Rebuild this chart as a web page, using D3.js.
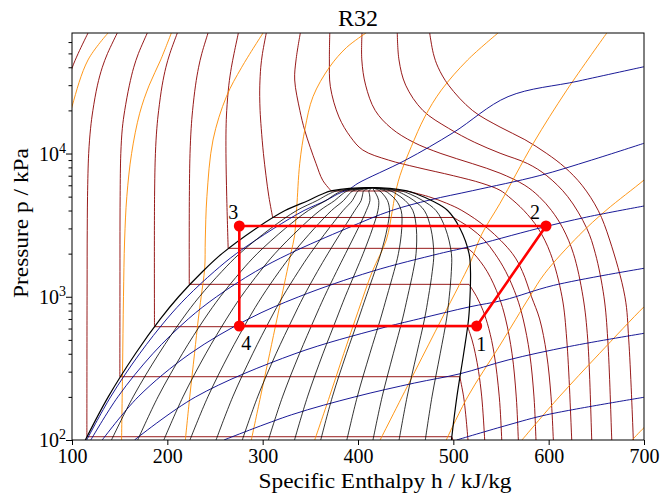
<!DOCTYPE html>
<html>
<head>
<meta charset="utf-8">
<script src="https://cdn.jsdelivr.net/npm/d3@7"></script>
<style>
  body { margin: 0; background: #fff; }
  svg { display: block; }
  text { font-family: "Liberation Serif", "DejaVu Serif", serif; fill: #000; }
</style>
</head>
<body>
<svg id="chart" width="661" height="497"></svg>
<script>
// saturation dome: pressure (kPa) and enthalpy (kJ/kg)
var satPressure = [100, 200, 400, 700, 1000, 1500, 2000, 3000, 4000, 4700, 5200, 5500, 5782];
var satLiquidH  = [114, 138, 166.5, 192.7, 211.8, 237, 257.3, 293.1, 323.5, 348, 362, 373, 415];
var satVaporH   = [498, 503.7, 510.8, 516, 517.5, 518, 516.5, 507, 494, 477, 462, 450, 415];

// vapour quality lines (1/14 ... 13/14), enthalpy at each satPressure level
var qualityH = [
  [141.4, 164.1, 191.1, 215.8, 233.6, 257.1, 275.8, 308.4, 335.7, 357.2, 369.1, 378.5, 415],
  [168.9, 190.2, 215.7, 238.9, 255.5, 277.1, 294.3, 323.7, 347.9, 366.4, 376.3, 384.0, 415],
  [196.3, 216.4, 240.3, 262.0, 277.3, 297.2, 312.8, 338.9, 360.0, 375.6, 383.4, 389.5, 415],
  [223.7, 242.5, 264.9, 285.1, 299.2, 317.3, 331.4, 354.2, 372.2, 384.9, 390.6, 395.0, 415],
  [251.1, 268.6, 289.5, 308.2, 321.0, 337.4, 349.9, 369.5, 384.4, 394.1, 397.7, 400.5, 415],
  [278.6, 294.7, 314.0, 331.3, 342.8, 357.4, 368.4, 384.8, 396.6, 403.3, 404.9, 406.0, 415],
  [306.0, 320.8, 338.6, 354.3, 364.7, 377.5, 386.9, 400.1, 408.8, 412.5, 412.0, 411.5, 415],
  [333.4, 347.0, 363.2, 377.4, 386.5, 397.6, 405.4, 415.3, 420.9, 421.7, 419.1, 417.0, 415],
  [360.9, 373.1, 387.8, 400.5, 408.4, 417.6, 423.9, 430.6, 433.1, 430.9, 426.3, 422.5, 415],
  [388.3, 399.2, 412.4, 423.6, 430.2, 437.7, 442.4, 445.9, 445.3, 440.1, 433.4, 428.0, 415],
  [415.7, 425.3, 437.0, 446.7, 452.0, 457.8, 460.9, 461.2, 457.5, 449.4, 440.6, 433.5, 415],
  [443.1, 451.5, 461.6, 469.8, 473.9, 477.9, 479.5, 476.4, 469.6, 458.6, 447.7, 439.0, 415],
  [470.6, 477.6, 486.2, 492.9, 495.7, 497.9, 498.0, 491.7, 481.8, 467.8, 454.9, 444.5, 415]
];

// isotherms as [h, p] segments (liquid part, two-phase plateau, vapour part)
var isotherms = [
  [[[91,25000],[100,39400],[106.5,50000],[116.8,69400]]],
  [[[147.5,69400],[137.3,50000],[131.8,40000],[126.7,30000],[121.9,20000],[119.5,15000],[117.5,10000],[116.3,5000],[115.8,1000],[115.6,105.4]],
   [[115.6,105.4],[498.4,105.4]],
   [[498.4,105.4],[499.5,100],[500.5,95]]],
  [[[179,69400],[169.7,50000],[164.8,40000],[160.2,30000],[155.3,20000],[152.8,15000],[151.2,10000],[150.5,5000],[150.3,1000],[150.2,276.6]],
   [[150.2,276.6],[506.8,276.6]],
   [[506.8,276.6],[510.8,200],[513,150],[515.4,100],[516,90]]],
  [[[210.5,69400],[202.7,50000],[198.5,40000],[194.6,30000],[190.9,20000],[189,15000],[187.5,10000],[186.6,5000],[186.5,618]],
   [[186.5,618],[515,618]],
   [[515,618],[519.6,500],[523.1,400],[526.5,300],[529.8,200],[532.9,100],[533.2,90]]],
  [[[242.7,69400],[236.2,50000],[232.8,40000],[229.6,30000],[226.5,20000],[225,15000],[223.8,10000],[223.1,5000],[223,1221]],
   [[223,1221],[516.5,1221]],
   [[516.5,1221],[524.5,1000],[531.2,800],[537.2,600],[542.8,400],[548.2,200],[550.8,100],[551.1,90]]],
  [[[274.5,69400],[270,50000],[267.2,40000],[264.5,30000],[262.3,20000],[261.6,15000],[261.5,10000],[262.3,5000],[263.8,2178]],
   [[263.8,2178],[515,2178]],
   [[515,2178],[521.5,2000],[535.5,1500],[547.8,1000],[554.8,700],[561.6,400],[566,200],[568.2,100],[568.5,90]]],
  [[[303.8,69400],[299.8,50000],[298,40000],[297,30000],[296.9,25000],[297.3,20000],[298.5,15000],[300.8,10000],[303.5,7000],[306.5,5000],[310.5,3577]],
   [[310.5,3577],[500,3577]],
   [[500,3577],[518.5,3000],[532.2,2500],[543.6,2000],[555,1500],[566.4,1000],[573.2,700],[580.1,400],[584.6,200],[586.7,100],[587,90]]],
  [[[339.5,69400],[335,45000],[333.6,32600],[339,20000],[344,14600],[350,11000],[356,8500],[363,6500],[372,5475]],
   [[372,5475],[451,5475]],
   [[451,5475],[474,5000],[493,4494],[509,4000],[536,3000],[562,2000],[572.5,1500],[582,1000],[590.5,700],[597.8,400],[602.5,200],[604.9,100],[605.2,90]]],
  [[[370.4,69400],[370,45000],[371,29270],[380,18000],[392,13100],[405,10580],[432,9000],[462,8000],[500,7000],[530,6200],[549,5540],[558,5000],[574,4000],[589,3000],[602,2000],[614,1000],[619,500],[624.2,100],[624.5,90]]],
  [[[404.2,69400],[404,45000],[408,30000],[418,20000],[435,15000],[458,12000],[487,10000],[520,8500],[549,7290],[575,6000],[590,5000],[603,4000],[615,3000],[626,2000],[636,1000],[641,500],[645.2,100],[645.5,90]]],
  [[[441.2,69400],[443,45000],[450,30000],[468,20000],[495,15000],[522,12000],[549,10050],[578,8500],[598,7000],[620,5000],[640,3000],[649,2000],[658,1000],[662,500],[666.2,100],[666.5,90]]],
  [[[475.2,69400],[479,50000],[484,40000],[495,30000],[520,20000],[549,15300],[575,12500],[598,10000],[617,8000],[635,6000],[652,4000],[664,2490],[680,1000],[684,500],[688.8,100],[689,90]]]
];

// isentropes [h, p]
var isentropes = [
  [[85,5000],[89,10000],[100,21230],[116.8,45000],[137.8,69400]],
  [[152,100],[153,300],[154,1000],[155.2,2490],[157.5,5000],[162.5,10000],[171,19100],[181,30000],[193,45000],[204.2,69400]],
  [[218.9,100],[223.5,200],[228.5,400],[232.5,700],[235.5,1000],[239.2,1590],[239.8,2490],[241.5,5000],[247.9,12420],[262,25000],[278,40000],[300.4,69400]],
  [[288.1,100],[297.7,200],[307.3,400],[315,700],[319.9,1000],[325.5,1500],[329.5,2000],[333.6,2690],[334.8,3500],[335.8,4250],[338.9,8550],[344.5,15000],[352.8,24950],[370,40000],[388,55000],[408.4,69400]],
  [[354.6,100],[370,200],[385,400],[400,787],[415,1500],[429.7,2490],[436,4000],[438.5,5000],[444,7000],[455.9,11160],[470,18000],[487.4,27700],[515,45000],[546.9,69400]],
  [[423.2,100],[459.6,300],[487.8,700],[506,1200],[517.5,1713],[529.4,2700],[549,4493],[583.9,11790],[619,27700],[661,69400]],
  [[492.6,100],[515,200],[549,460],[580,1000],[596,1458],[632,2690],[660,4000],[700,6530],[715,8000]],
  [[572,100],[611,200],[653,400],[700,851],[715,1050]],
  [[687.6,100],[700,122],[715,150]]
];

// isochores [h, p]
var isochores = [
  [[115.4,100],[140.5,200],[170.9,400],[199.5,700],[220.8,1000],[249.2,1500],[272.3,2000],[311.7,3000],[343.4,4000],[366.4,4700],[378.4,5200],[386.7,5500],[392,5700],[400,6200],[450,9000],[500,14000],[557.4,24950],[630.8,32000],[700,40360]],
  [[119.7,100],[148.1,200],[184.7,400],[222,700],[251.6,1000],[292.5,1500],[328.3,2000],[388.2,3000],[435.3,4000],[476,4750],[520,5500],[590,7000],[645,9000],[700,11790]],
  [[131.7,100],[169.4,200],[223.7,400],[285.2,700],[337.9,1000],[414.1,1500],[485.4,2000],[515,2220],[589,3000],[640,3600],[700,4300]],
  [[165.6,100],[229.7,200],[333.8,400],[423.1,600],[463.6,700],[517,850],[553,948],[605,1200],[700,1580]],
  [[259.4,100],[330.3,150],[396.7,200],[459.4,250],[507,290],[557.4,362],[622,450],[700,555.6]],
  [[503.5,100],[557.4,127.3],[598,150],[700,198.7]]
];

// refrigeration cycle states 1..4
var cycleH = [524.5, 597.2, 275.5, 275.5];
var cycleP = [625, 3119, 3119, 625];
var cycleLabels = ["1", "2", "3", "4"];
var labelOffsets = [[4.5, 25], [-11, -7], [-6, -7], [7, 24]];

var xTicks = [100, 200, 300, 400, 500, 600, 700];
var yTicks = [100, 1000, 10000];
var yMinor = [200,300,400,500,600,700,800,900,2000,3000,4000,5000,6000,7000,8000,9000,20000,30000,40000,50000,60000];

var plotL = 72, plotR = 644, plotT = 33, plotB = 440;

var x = d3.scaleLinear().domain([100, 700]).range([plotL, plotR]);
var y = d3.scaleLog().domain([100, 69400]).range([plotB, plotT]);

var svg = d3.select("#chart");

svg.append("defs").append("clipPath").attr("id", "plotClip")
  .append("rect")
  .attr("x", plotL).attr("y", plotT)
  .attr("width", plotR - plotL).attr("height", plotB - plotT);

var plot = svg.append("g").attr("clip-path", "url(#plotClip)");

var curved = d3.line()
  .x(function(d){ return x(d[0]); })
  .y(function(d){ return y(d[1]); })
  .curve(d3.curveCatmullRom.alpha(0.5));

function drawLines(data, color, width){
  plot.append("g")
    .selectAll("path")
    .data(data)
    .enter()
    .append("path")
    .attr("d", curved)
    .attr("fill", "none")
    .attr("stroke", color)
    .attr("stroke-width", width);
}

// isotherms: flatten segments
var isoSegments = [];
isotherms.forEach(function(t){
  t.forEach(function(seg){ isoSegments.push(seg); });
});
drawLines(isoSegments, "#8b0000", 0.9);
drawLines(isentropes, "#ff8c00", 0.9);
drawLines(isochores, "#00008b", 0.9);

var qualityLines = qualityH.map(function(row){
  return row.map(function(h, i){ return [h, satPressure[i]]; });
});
drawLines(qualityLines, "#000", 0.8);

var liquidSide = satPressure.map(function(p, i){ return [satLiquidH[i], p]; });
var vaporSide = satPressure.map(function(p, i){ return [satVaporH[i], p]; }).reverse().slice(1);
drawLines([liquidSide.concat(vaporSide)], "#000", 1.2);

// cycle
var cyclePts = cycleH.map(function(h, i){ return [h, cycleP[i]]; });
svg.append("path")
  .datum(cyclePts)
  .attr("d", d3.line()
    .x(function(d){ return x(d[0]); })
    .y(function(d){ return y(d[1]); })
    .curve(d3.curveLinearClosed))
  .attr("fill", "none")
  .attr("stroke", "#ff0000")
  .attr("stroke-width", 2.6);

svg.append("g")
  .selectAll("circle")
  .data(cyclePts)
  .enter()
  .append("circle")
  .attr("cx", function(d){ return x(d[0]); })
  .attr("cy", function(d){ return y(d[1]); })
  .attr("r", 5.5)
  .attr("fill", "#ff0000");

svg.append("g")
  .selectAll("text")
  .data(cyclePts)
  .enter()
  .append("text")
  .attr("x", function(d, i){ return x(d[0]) + labelOffsets[i][0]; })
  .attr("y", function(d, i){ return y(d[1]) + labelOffsets[i][1]; })
  .attr("text-anchor", "middle")
  .attr("font-size", 20)
  .text(function(d, i){ return cycleLabels[i]; });

// frame
svg.append("rect")
  .attr("x", plotL).attr("y", plotT)
  .attr("width", plotR - plotL).attr("height", plotB - plotT)
  .attr("fill", "none")
  .attr("stroke", "#000")
  .attr("stroke-width", 1);

// x axis
var xAxis = svg.append("g")
  .attr("transform", "translate(0," + plotB + ")")
  .call(d3.axisBottom(x).tickValues(xTicks).tickSize(5).tickPadding(4).tickFormat(d3.format("d")));
xAxis.select(".domain").remove();
xAxis.selectAll("text").attr("font-size", 20).attr("font-family", "Liberation Serif, DejaVu Serif, serif").attr("fill", "#000");

// y axis: majors and minors
var yAxis = svg.append("g")
  .attr("transform", "translate(" + plotL + ",0)")
  .call(d3.axisLeft(y).tickValues(yTicks).tickSize(6).tickFormat(""));
yAxis.select(".domain").remove();
var yAxisMinor = svg.append("g")
  .attr("transform", "translate(" + plotL + ",0)")
  .call(d3.axisLeft(y).tickValues(yMinor).tickSize(3.5).tickFormat(""));
yAxisMinor.select(".domain").remove();

var yLabels = svg.append("g");
yTicks.forEach(function(v){
  var t = yLabels.append("text")
    .attr("x", 66)
    .attr("y", y(v) + 7)
    .attr("text-anchor", "end")
    .attr("font-size", 20);
  t.append("tspan").text("10");
  t.append("tspan").attr("dy", -8).attr("font-size", 14).text(String(Math.round(Math.log10(v))));
});

// titles
svg.append("text")
  .attr("x", (plotL + plotR) / 2)
  .attr("y", 26)
  .attr("text-anchor", "middle")
  .attr("font-size", 24)
  .text("R32");

svg.append("text")
  .attr("x", 385)
  .attr("y", 488)
  .attr("text-anchor", "middle")
  .attr("font-size", 20)
  .attr("textLength", 253)
  .attr("lengthAdjust", "spacingAndGlyphs")
  .text("Specific Enthalpy h / kJ/kg");

svg.append("text")
  .attr("transform", "translate(28,223) rotate(-90)")
  .attr("text-anchor", "middle")
  .attr("font-size", 20)
  .attr("textLength", 150)
  .attr("lengthAdjust", "spacingAndGlyphs")
  .text("Pressure p / kPa");
</script>
</body>
</html>
